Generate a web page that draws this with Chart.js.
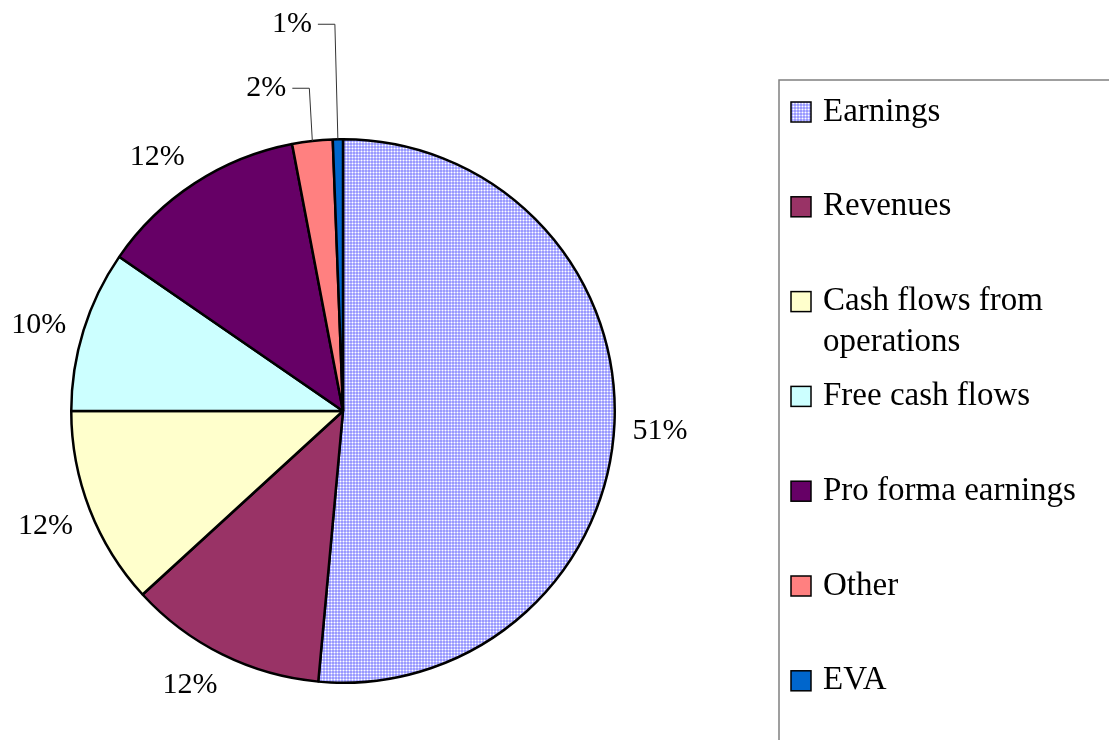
<!DOCTYPE html>
<html>
<head>
<meta charset="utf-8">
<script src="https://cdn.jsdelivr.net/npm/chart.js@4/dist/chart.umd.min.js"></script>
<style>
  html, body { margin: 0; padding: 0; background: #ffffff; }
  #wrap { width: 1109px; height: 740px; }
</style>
</head>
<body>
<div id="wrap"><canvas id="c" width="1109" height="740"></canvas></div>
<script>
// ---- data ----
const categories = ["Earnings", "Revenues", "Cash flows from operations", "Free cash flows", "Pro forma earnings", "Other", "EVA"];
const shares = [51.45, 11.75, 11.8, 9.6, 12.4, 2.4, 0.6];
const sliceColors = ["pattern", "#993366", "#FFFFCC", "#CCFFFF", "#660066", "#FF8080", "#0066CC"];

// ---- pattern for Earnings ----
function makePattern() {
  const t = document.createElement('canvas');
  t.width = 3; t.height = 3;
  const g = t.getContext('2d');
  g.fillStyle = '#9999FF'; g.fillRect(0, 0, 3, 3);
  g.fillStyle = '#C4C4FF'; g.fillRect(1, 0, 1, 3); g.fillRect(0, 1, 3, 1);
  g.fillStyle = '#FFFFFF'; g.fillRect(1, 1, 1, 1);
  return document.createElement('canvas').getContext('2d').createPattern(t, 'repeat');
}
const pat = makePattern();
const fills = sliceColors.map(c => c === 'pattern' ? pat : c);

const LABEL_FONT = '30px "Liberation Serif", "Times New Roman", serif';
const LEGEND_FONT = '33px "Liberation Serif", "Times New Roman", serif';

const pctLabels = {
  id: 'pctLabels',
  afterDatasetsDraw(chart, args, opts) {
    const ctx = chart.ctx;
    const meta = chart.getDatasetMeta(0);
    const data = chart.data.datasets[0].data;
    const total = data.reduce((a, b) => a + b, 0);
    ctx.save();
    ctx.font = LABEL_FONT;
    ctx.fillStyle = '#000';
    ctx.textBaseline = 'middle';
    meta.data.forEach((arc, i) => {
      const p = arc.getProps(['x', 'y', 'startAngle', 'endAngle', 'outerRadius'], true);
      const mid = (p.startAngle + p.endAngle) / 2;
      const dx = Math.cos(mid), dy = Math.sin(mid);
      const txt = Math.round(data[i] / total * 100) + '%';
      const w = ctx.measureText(txt).width;
      const h = 30;
      const lift = opts.leaderLift[i];
      if (lift !== undefined) {
        const ax = p.x + p.outerRadius * dx;
        const ay = p.y + p.outerRadius * dy;
        const ey = p.y - p.outerRadius - lift;
        const ex = ax - 3;
        ctx.save();
        ctx.strokeStyle = '#333';
        ctx.lineWidth = 1;
        ctx.beginPath();
        ctx.moveTo(ax, ay);
        ctx.lineTo(ex, ey);
        ctx.lineTo(ex - 17, ey);
        ctx.stroke();
        ctx.restore();
        ctx.textAlign = 'right';
        ctx.fillText(txt, ex - 23, ey);
      } else {
        const g = opts.gap;
        const px = p.x + (p.outerRadius + g) * dx;
        const py = p.y + (p.outerRadius + g) * dy;
        const cx = px + (w / 2) * Math.max(-1, Math.min(1, 2 * dx));
        const cy = py + (h / 2) * dy + 7 * (1 - Math.abs(dy));
        ctx.textAlign = 'center';
        ctx.fillText(txt, cx, cy);
      }
    });
    ctx.restore();
  }
};

const boxLegend = {
  id: 'boxLegend',
  afterDraw(chart, args, opts) {
    const ctx = chart.ctx;
    ctx.save();
    ctx.strokeStyle = '#808080';
    ctx.lineWidth = 1.5;
    ctx.strokeRect(opts.left, opts.top, 400, 800);
    ctx.font = LEGEND_FONT;
    ctx.textBaseline = 'middle';
    ctx.textAlign = 'left';
    const maxW = chart.width - opts.textX - 8;
    chart.data.labels.forEach((lab, i) => {
      const y = opts.firstY + i * opts.step;
      const s = opts.swatch;
      ctx.fillStyle = chart.data.datasets[0].backgroundColor[i];
      ctx.fillRect(opts.swatchX, y - s / 2, s, s);
      ctx.strokeStyle = '#000';
      ctx.lineWidth = 1.5;
      ctx.strokeRect(opts.swatchX, y - s / 2, s, s);
      ctx.fillStyle = '#000';
      const words = lab.split(' ');
      const lines = [];
      let cur = '';
      words.forEach(wd => {
        const test = cur ? cur + ' ' + wd : wd;
        if (ctx.measureText(test).width > maxW && cur) { lines.push(cur); cur = wd; }
        else cur = test;
      });
      lines.push(cur);
      lines.forEach((ln, k) => ctx.fillText(ln, opts.textX, y + k * opts.lineH));
    });
    ctx.restore();
  }
};

new Chart(document.getElementById('c'), {
  type: 'pie',
  data: {
    labels: categories,
    datasets: [{
      data: shares,
      backgroundColor: fills,
      borderColor: '#000000',
      borderWidth: 2.5
    }]
  },
  options: {
    responsive: false,
    animation: false,
    layout: { padding: { left: 70, top: 138, right: 493, bottom: 56 } },
    plugins: {
      legend: { display: false },
      tooltip: { enabled: false },
      pctLabels: { gap: 18, leaderLift: { 5: 51, 6: 115 } },
      boxLegend: { left: 779, top: 80, swatchX: 791, swatch: 20, textX: 823, firstY: 112, step: 94.8, lineH: 41 }
    }
  },
  plugins: [pctLabels, boxLegend]
});
</script>
</body>
</html>
